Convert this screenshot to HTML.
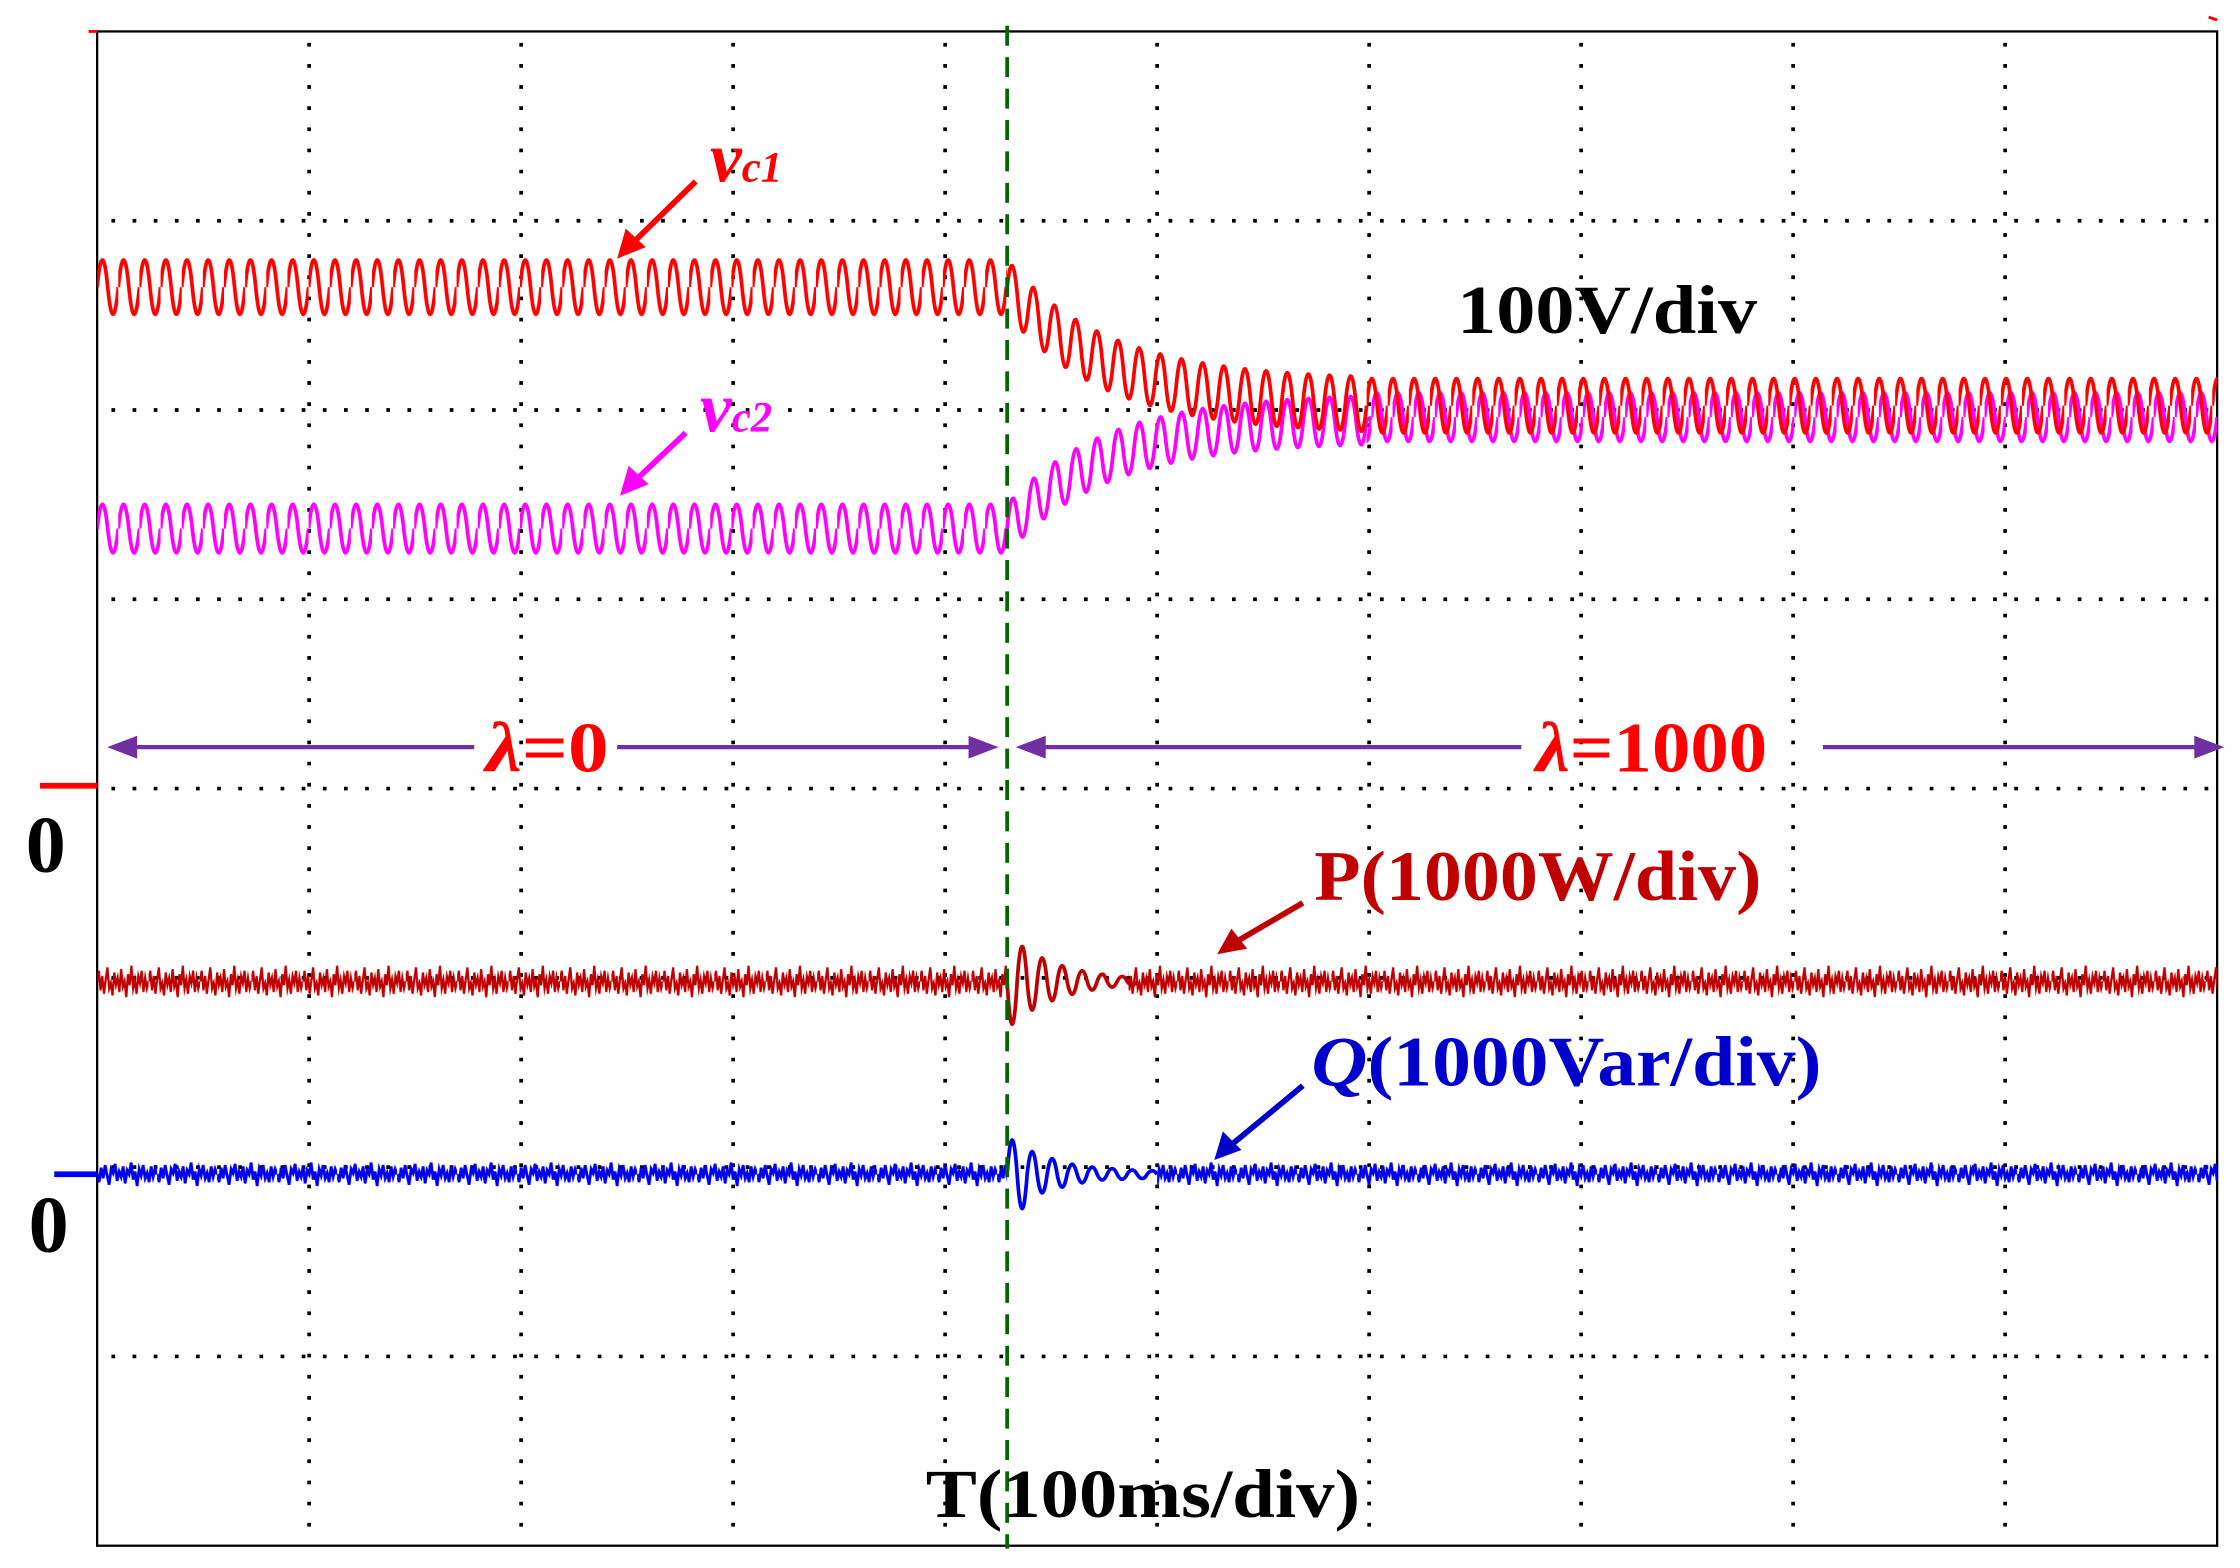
<!DOCTYPE html>
<html><head><meta charset="utf-8"><style>
html,body{margin:0;padding:0;background:#fff;}
svg{display:block;}
text{font-family:"Liberation Serif",serif;font-weight:bold;}
</style></head><body>
<svg width="2240" height="1568" viewBox="0 0 1568 1097.6" xmlns="http://www.w3.org/2000/svg">
<defs>
<pattern id="w1a" patternUnits="userSpaceOnUse" x="68" y="176" width="14.8" height="50"><path d="M0 25 Q3.7 -13 7.4 25 Q11.1 63 14.8 25" fill="none" stroke="#f00" stroke-width="2.6"/></pattern>
<pattern id="w1b" patternUnits="userSpaceOnUse" x="956.6" y="259" width="14.8" height="50"><path d="M0 25 Q3.7 -13 7.4 25 Q11.1 63 14.8 25" fill="none" stroke="#f00" stroke-width="2.6"/></pattern>
<pattern id="w2a" patternUnits="userSpaceOnUse" x="68" y="345" width="14.8" height="50"><path d="M0 25 Q3.7 -9 7.4 25 Q11.1 59 14.8 25" fill="none" stroke="#f0f" stroke-width="2.6"/></pattern>
<pattern id="w2b" patternUnits="userSpaceOnUse" x="960" y="267" width="14.8" height="50"><path d="M0 25 Q3.7 -9 7.4 25 Q11.1 59 14.8 25" fill="none" stroke="#f0f" stroke-width="2.6"/></pattern>
<pattern id="np" patternUnits="userSpaceOnUse" x="0" y="0" width="60" height="40" patternTransform="translate(68,663) scale(0.6,1.2)"><path d="M0 20 L2 14 L4 25 L6 17 L8 27 L10 19 L12 12 L14 24 L16 21 L18 28 L20 15 L22 22 L24 18 L26 26 L28 13 L30 23 L32 20 L34 29 L36 16 L38 22 L40 11 L42 24 L44 19 L46 27 L48 17 L50 21 L52 14 L54 26 L56 18 L58 24 L60 20" fill="none" stroke="#c00000" stroke-width="2.6"/></pattern>
<pattern id="nq" patternUnits="userSpaceOnUse" x="0" y="0" width="60" height="40" patternTransform="translate(68,804) scale(0.7,0.9)"><path d="M0 20 L2 26 L4 15 L6 23 L8 13 L10 21 L12 28 L14 16 L16 19 L18 12 L20 25 L22 18 L24 22 L26 14 L28 27 L30 17 L32 20 L34 11 L36 24 L38 18 L40 29 L42 16 L44 21 L46 13 L48 23 L50 19 L52 26 L54 14 L56 22 L58 16 L60 20" fill="none" stroke="#0000ee" stroke-width="2.8"/></pattern>
</defs>
<rect x="0" y="0" width="1568" height="1098" fill="#fff"/>
<g stroke="#000" stroke-width="2.6" stroke-dasharray="2.6 12.2" fill="none">
<line x1="216.4" y1="30" x2="216.4" y2="1080"/><line x1="364.8" y1="30" x2="364.8" y2="1080"/><line x1="513.2" y1="30" x2="513.2" y2="1080"/><line x1="661.6" y1="30" x2="661.6" y2="1080"/><line x1="810" y1="30" x2="810" y2="1080"/><line x1="958.4" y1="30" x2="958.4" y2="1080"/><line x1="1106.8" y1="30" x2="1106.8" y2="1080"/><line x1="1255.2" y1="30" x2="1255.2" y2="1080"/><line x1="1403.6" y1="30" x2="1403.6" y2="1080"/>
<line x1="78" y1="154.5" x2="1550" y2="154.5"/><line x1="78" y1="287" x2="1550" y2="287"/><line x1="78" y1="419.5" x2="1550" y2="419.5"/><line x1="78" y1="552" x2="1550" y2="552"/><line x1="78" y1="684.5" x2="1550" y2="684.5"/><line x1="78" y1="817" x2="1550" y2="817"/><line x1="78" y1="949.5" x2="1550" y2="949.5"/>
</g>
<rect x="68" y="22" width="1484" height="1060" fill="none" stroke="#000" stroke-width="1.6"/>
<rect x="68" y="345" width="637" height="50" fill="url(#w2a)"/>
<rect x="956.6" y="267" width="595.4" height="50" fill="url(#w2b)"/>
<path fill="none" stroke="#f0f" stroke-width="2.6" d="M705 370 Q708.7 332.1 712.4 362.2 Q716.1 392.7 719.8 355.1 Q723.5 318 727.2 348.8 Q730.9 380 734.6 343.1 Q738.3 306.6 742 338 Q745.7 369.7 749.4 333.3 Q753.1 297.3 756.8 329.2 Q760.5 361.4 764.2 325.5 Q767.9 289.8 771.6 322.1 Q775.3 354.6 779 319.1 Q782.7 283.7 786.4 316.3 Q790.1 349.1 793.8 313.9 Q797.5 278.8 801.2 311.7 Q804.9 344.8 808.6 309.8 Q812.3 274.9 816 308 Q819.7 341.2 823.4 306.4 Q827.1 271.7 830.8 304.9 Q834.5 338.3 838.2 303.6 Q841.9 269 845.6 302.5 Q849.3 336 853 301.4 Q856.7 267 860.4 300.5 Q864.1 334 867.8 299.6 Q871.5 265.3 875.2 298.9 Q878.9 332.6 882.6 298.2 Q886.3 263.9 890 297.5 Q893.7 331.3 897.4 297 Q901.1 262.8 904.8 296.5 Q908.5 330.3 912.2 296.1 Q915.9 261.9 919.6 295.7 Q923.3 329.5 927 295.3 Q930.7 261.2 934.4 295 Q938.1 328.9 941.8 294.7 Q945.5 260.6 949.2 294.4 Q952.9 328.3 956.6 294.2 L960 292"/>
<rect x="68" y="176" width="637" height="50" fill="url(#w1a)"/>
<rect x="956.6" y="259" width="595.4" height="50" fill="url(#w1b)"/>
<path fill="none" stroke="#f00" stroke-width="2.6" d="M705 201 Q708.7 167.2 712.4 209.4 Q716.1 251.2 719.8 217 Q723.5 182.4 727.2 223.8 Q730.9 264.9 734.6 230 Q738.3 194.8 742 235.5 Q745.7 276 749.4 240.5 Q753.1 204.7 756.8 244.9 Q760.5 285 764.2 249 Q767.9 212.8 771.6 252.6 Q775.3 292.3 779 255.9 Q782.7 219.4 786.4 258.8 Q790.1 298.1 793.8 261.4 Q797.5 224.6 801.2 263.7 Q804.9 302.8 808.6 265.8 Q812.3 228.8 816 267.8 Q819.7 306.7 823.4 269.5 Q827.1 232.3 830.8 271.1 Q834.5 309.8 838.2 272.5 Q841.9 235.1 845.6 273.7 Q849.3 312.3 853 274.8 Q856.7 237.3 860.4 275.8 Q864.1 314.3 867.8 276.8 Q871.5 239.2 875.2 277.6 Q878.9 316 882.6 278.4 Q886.3 240.7 890 279 Q893.7 317.3 897.4 279.6 Q901.1 241.9 904.8 280.1 Q908.5 318.4 912.2 280.6 Q915.9 242.9 919.6 281.1 Q923.3 319.3 927 281.5 Q930.7 243.7 934.4 281.8 Q938.1 320 941.8 282.1 Q945.5 244.3 949.2 282.4 Q952.9 320.5 956.6 284"/>
<rect x="68" y="663" width="637" height="48" fill="url(#np)"/>
<rect x="790" y="663" width="762" height="48" fill="url(#np)"/>
<path fill="none" stroke="#c00000" stroke-width="2.6" d="M705 687 Q708.5 747 712 687 Q715.5 638 719 687 Q722.5 727 726 687 Q729.5 654 733 687 Q736.5 714 740 687 Q743.5 665 747 687 Q750.5 705 754 687 Q757.5 672 761 687 Q764.5 699 768 687 Q771.5 677 775 687 Q778.5 695 782 687 Q785.5 680 789 687 Q792.5 692 796 687"/>
<rect x="68" y="804" width="637" height="36" fill="url(#nq)"/>
<rect x="810" y="804" width="742" height="36" fill="url(#nq)"/>
<path fill="none" stroke="#0000ee" stroke-width="2.6" d="M705 822 Q708.5 774 712 822 Q715.5 870 719 822 Q722.5 790 726 822 Q729.5 848 733 822 Q736.5 800 740 822 Q743.5 840 747 822 Q750.5 808 754 822 Q757.5 834 761 822 Q764.5 812 768 822 Q771.5 830 775 822 Q778.5 814 782 822 Q785.5 829 789 822 Q792.5 816 796 822 Q799.5 828 803 822 Q806.5 817 810 822"/>
<line x1="705" y1="18" x2="705" y2="1084" stroke="#006400" stroke-width="2.6" stroke-dasharray="14 8"/>
<line x1="28" y1="550" x2="68" y2="550" stroke="#f00" stroke-width="4"/>
<line x1="38" y1="822" x2="68" y2="822" stroke="#00f" stroke-width="4"/>
<line x1="62" y1="22" x2="68" y2="22" stroke="#f00" stroke-width="2"/>
<line x1="1546" y1="12" x2="1552" y2="14" stroke="#f00" stroke-width="2"/>
<text x="18" y="610" font-size="56" fill="#000">0</text>
<text x="20" y="876" font-size="56" fill="#000">0</text>
<g stroke="#7030a0" stroke-width="3" fill="#7030a0">
<line x1="90" y1="523" x2="332" y2="523"/><line x1="432" y1="523" x2="684" y2="523"/>
<polygon points="75,523 96,515 96,531" stroke="none"/>
<polygon points="699,523 678,515 678,531" stroke="none"/>
<line x1="726" y1="523" x2="1065" y2="523"/><line x1="1276" y1="523" x2="1542" y2="523"/>
<polygon points="711,523 732,515 732,531" stroke="none"/>
<polygon points="1557,523 1536,515 1536,531" stroke="none"/>
</g>
<text x="340" y="540" font-size="50" fill="#f00" textLength="86" lengthAdjust="spacingAndGlyphs"><tspan font-style="italic">λ</tspan>=0</text>
<text x="1075" y="540" font-size="50" fill="#f00" textLength="162" lengthAdjust="spacingAndGlyphs"><tspan font-style="italic">λ</tspan>=1000</text>
<text x="1020" y="233" font-size="48" fill="#000" textLength="210" lengthAdjust="spacingAndGlyphs">100V/div</text>
<text x="497" y="127" font-size="50" fill="#f00" font-style="italic">v<tspan font-size="30">c1</tspan></text>
<text x="490" y="302" font-size="50" fill="#f0f" font-style="italic">v<tspan font-size="30">c2</tspan></text>
<text x="920" y="630" font-size="50" fill="#c00000" textLength="313" lengthAdjust="spacingAndGlyphs">P(1000W/div)</text>
<text x="918" y="760" font-size="50" fill="#0000cc" textLength="357" lengthAdjust="spacingAndGlyphs"><tspan font-style="italic">Q</tspan>(1000Var/div)</text>
<text x="648" y="1062" font-size="48" fill="#000" textLength="304" lengthAdjust="spacingAndGlyphs">T(100ms/div)</text>
<g stroke-width="4">
<line x1="487" y1="127" x2="442" y2="171" stroke="#f00"/><polygon points="432,181 438,160 452,173" fill="#f00"/>
<line x1="480" y1="303" x2="444" y2="337" stroke="#f0f"/><polygon points="434,347 440,326 454,339" fill="#f0f"/>
<line x1="912" y1="632" x2="864" y2="660" stroke="#c00000"/><polygon points="852,668 862,650 873,664" fill="#c00000"/>
<line x1="912" y1="760" x2="860" y2="803" stroke="#0000cc"/><polygon points="850,812 856,792 869,805" fill="#0000cc"/>
</g>
</svg>
</body></html>
